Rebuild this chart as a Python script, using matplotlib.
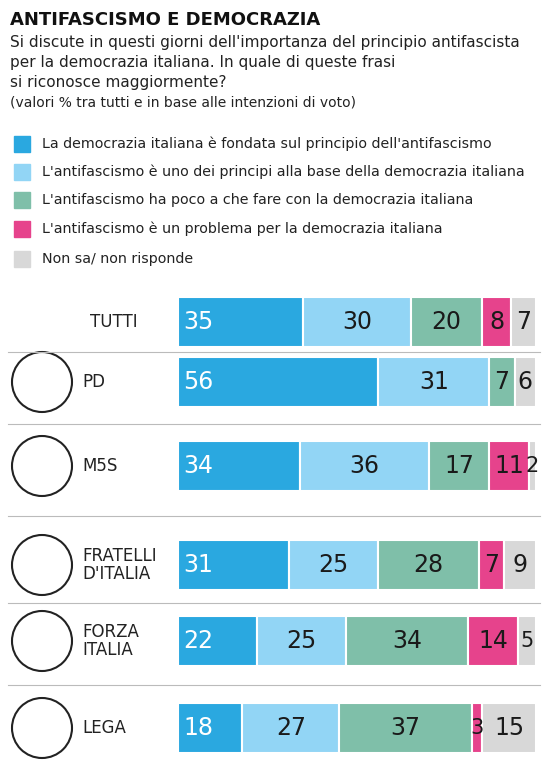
import matplotlib
matplotlib.use("Agg")
import matplotlib.pyplot as plt
import matplotlib.patches as mpatches

groups = ["TUTTI", "PD", "M5S", "FRATELLI\nD'ITALIA", "FORZA\nITALIA", "LEGA"]
fondata = [35, 56, 34, 31, 22, 18]
principi = [30, 31, 36, 25, 25, 27]
poco = [20, 7, 17, 28, 34, 37]
problema = [8, 0, 11, 7, 14, 3]
nonsa = [7, 6, 2, 9, 5, 15]
series = [fondata, principi, poco, problema, nonsa]
labels = ["La democrazia italiana è fondata sul principio dell'antifascismo",
          "L'antifascismo è uno dei principi alla base della democrazia italiana",
          "L'antifascismo ha poco a che fare con la democrazia italiana",
          "L'antifascismo è un problema per la democrazia italiana",
          "Non sa/ non risponde"]
colors = ["#2aa8e0", "#92d5f5", "#7fbfa9", "#e6438c", "#d8d8d8"]
txtcol = ["white", "#1a1a1a", "#1a1a1a", "#1a1a1a", "#1a1a1a"]
ycent = [322, 382, 466, 565, 641, 728]

W, H = 550, 766
fig = plt.figure(figsize=(5.5, 7.66), dpi=100)
ax = fig.add_axes([178/W, 0, (536-178)/W, (766-280)/H])
ax.set_ylim(766, 280)
ax.axis("off")
for i, y in enumerate(ycent):
    tot = sum(s[i] for s in series)
    left = 0
    for k, s in enumerate(series):
        if s[i] == 0:
            continue
        v = s[i] * 100 / tot
        ax.barh(y, v, left=left, height=50, color=colors[k], edgecolor="white", linewidth=1.5)
        if k == 0:
            ax.text(left + 1.5, y, str(s[i]), color="white", fontsize=17, va="center", ha="left")
        else:
            ax.text(left + v/2, y, str(s[i]), color=txtcol[k], fontsize=17 if v > 5 else 15,
                    va="center", ha="center")
        left += v
ax.set_xlim(0, 100)

def T(x, y, s, **kw):
    fig.text(x/W, 1 - y/H, s, **kw)

T(10, 20, "ANTIFASCISMO E DEMOCRAZIA", fontsize=13, fontweight="bold", va="center", color="#111")
sub = ["Si discute in questi giorni dell'importanza del principio antifascista",
       "per la democrazia italiana. In quale di queste frasi",
       "si riconosce maggiormente?"]
for j, s in enumerate(sub):
    T(10, 42 + j*20, s, fontsize=11, va="center", color="#222")
T(10, 103, "(valori % tra tutti e in base alle intenzioni di voto)", fontsize=10, va="center", color="#222")
ly = [144, 172, 200, 229, 259]
for k, (l, c) in enumerate(zip(labels, colors)):
    fig.patches.append(mpatches.Rectangle((14/W, 1-(ly[k]+8)/H), 16/W, 16/H, color=c, transform=fig.transFigure))
    T(42, ly[k], l, fontsize=10.3, va="center", color="#222")
for i, (g, y) in enumerate(zip(groups, ycent)):
    x = 90 if i == 0 else 82
    T(x, y, g, fontsize=12, va="center", color="#222", linespacing=1.0)
    if i > 0:
        fig.patches.append(mpatches.Ellipse((42/W, 1-y/H), 60/W, 60/H, transform=fig.transFigure,
                           facecolor="white", edgecolor="#222", linewidth=1.5))
    if i < len(ycent) - 1:
        yl = (y + ycent[i+1]) / 2
        fig.add_artist(plt.Line2D([8/W, 540/W], [1-yl/H, 1-yl/H], color="#bbbbbb", linewidth=0.8))
fig.savefig("out.png", dpi=100, facecolor="white")
